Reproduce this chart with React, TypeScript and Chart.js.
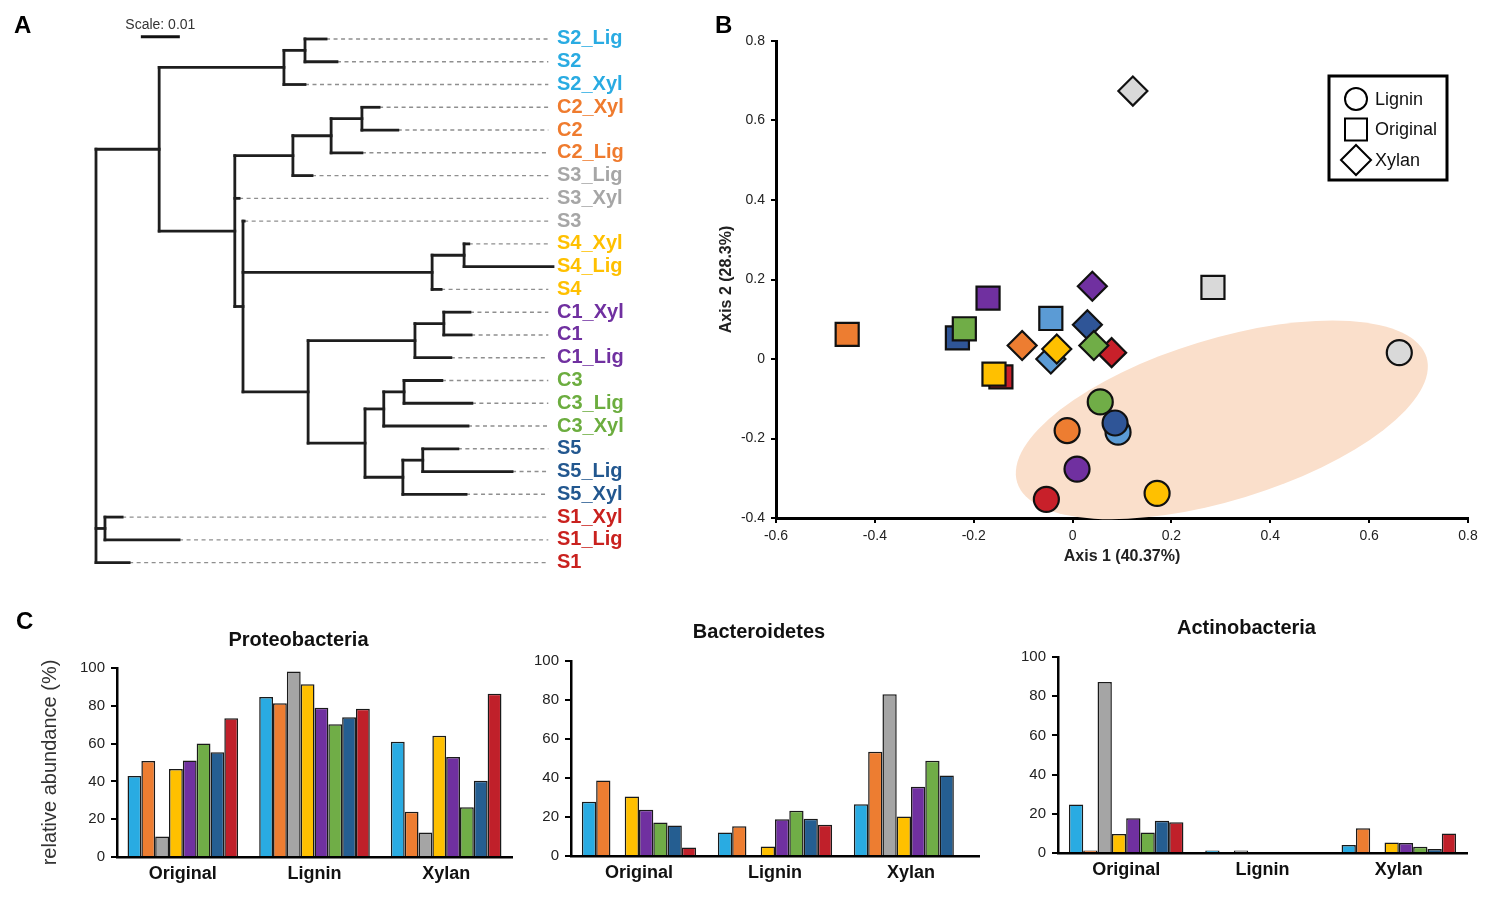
import React, { useEffect, useRef } from 'react';
import { Chart, registerables } from 'chart.js';

Chart.register(...registerables);

const FONT = '"Liberation Sans", Arial, Helvetica, sans-serif';

// ---------------- Panel A : tree (branch lengths, Newick pieces) ----------------
const CLADE_S2 = '((S2_Lig:0.0054,S2:0.0082):0.0054,S2_Xyl:0.0054)';
const CLADE_C2 = '((C2_Xyl:0.0044,C2:0.0092):0.0079,C2_Lig:0.0079)';
const CLADE_C2_S3 = '(' + CLADE_C2 + ':0.0098,S3_Lig:0.0049)';
const CLADE_S4 = '((S4_Xyl:0.0012,S4_Lig:0.0228):0.0082,S4:0.0023)';
const CLADE_C1 = '((C1_Xyl:0.0067,C1:0.0070):0.0074,C1_Lig:0.0092)';
const CLADE_C3 = '((C3:0.0097,C3_Lig:0.0174):0.0052,C3_Xyl:0.0216)';
const CLADE_S5 = '((S5:0.0090,S5_Lig:0.0229):0.0051,S5_Xyl:0.0162)';
const CLADE_C3_S5 = '(' + CLADE_C3 + ':0.0048,' + CLADE_S5 + ':0.0097)';
const CLADE_C1_C3_S5 = '(' + CLADE_C1 + ':0.0274,' + CLADE_C3_S5 + ':0.0146)';
const CLADE_Y = '(S3:0.0003,' + CLADE_S4 + ':0.0485,' + CLADE_C1_C3_S5 + ':0.0167)';
const CLADE_X = '(' + CLADE_C2_S3 + ':0.0149,S3_Xyl:0.0011,' + CLADE_Y + ':0.0021)';
const CLADE_BIG = '(' + CLADE_S2 + ':0.0320,' + CLADE_X + ':0.0194)';
const CLADE_S1 = '(S1_Xyl:0.0044,S1_Lig:0.0190)';
const TREE_NEWICK = '(' + CLADE_BIG + ':0.0162,' + CLADE_S1 + ':0.0023,S1:0.0085);';

const TREE_COLORS: Record<string, string> = {
  S1: '#c9211e', S2: '#29abe2', S3: '#a6a6a6', S4: '#ffc000',
  S5: '#22578f', C1: '#7030a0', C2: '#ef7b2e', C3: '#6cad3f',
};
const TREE_X_MAX = 0.1172;
const DASH_END = 0.116;
const SCALE_BAR_START = 0.0115;
const SCALE_BAR_LENGTH = 0.01;
const SCALE_BAR_ROW = -0.1;

// ---------------- Panel B : PCoA ----------------
const PCOA_SAMPLES = ['S1', 'S2', 'S5', 'S3', 'C1', 'C2', 'S4', 'C3'];
const PCOA_COLORS = ['#c8202a', '#5b9bd5', '#2f5597', '#d9d9d9', '#7030a0', '#ed7d31', '#ffc000', '#70ad47'];
const ORIGINAL_AXIS1 = [-0.145, -0.044, -0.233, 0.284, -0.171, -0.456, -0.159, -0.219];
const ORIGINAL_AXIS2 = [-0.045, 0.102, 0.053, 0.180, 0.153, 0.062, -0.038, 0.076];
const XYLAN_AXIS1 = [0.079, -0.044, 0.030, 0.122, 0.040, -0.102, -0.032, 0.043];
const XYLAN_AXIS2 = [0.016, 0.000, 0.086, 0.674, 0.183, 0.034, 0.025, 0.034];
const LIGNIN_AXIS1 = [-0.053, 0.092, 0.086, 0.661, 0.009, -0.011, 0.171, 0.056];
const LIGNIN_AXIS2 = [-0.353, -0.184, -0.161, 0.016, -0.277, -0.180, -0.338, -0.108];
const LEGEND_LABELS = ['Lignin', 'Original', 'Xylan'];
const ELLIPSE = { cx: 0.302, cy: -0.153, rx: 0.433, ry: 0.203, angleDeg: -17 };

// ---------------- Panel C : bars ----------------
const BAR_SAMPLES = ['S2', 'C2', 'S3', 'S4', 'C1', 'C3', 'S5', 'S1'];
const BAR_COLORS = ['#29abe2', '#ed7d31', '#a5a5a5', '#ffc000', '#7030a0', '#70ad47', '#255e91', '#c0202a'];
const TREATMENTS = ['Original', 'Lignin', 'Xylan'];

const PROTEO_ORIGINAL = [42.9, 50.8, 10.9, 46.6, 51.0, 60.0, 55.4, 73.4];
const PROTEO_LIGNIN = [84.7, 81.3, 98.2, 91.4, 79.0, 70.2, 73.9, 78.5];
const PROTEO_XYLAN = [61.0, 24.0, 12.9, 64.2, 52.9, 26.3, 40.4, 86.4];

const BACTERO_ORIGINAL = [27.8, 38.7, null, 30.5, 23.7, 17.2, 15.7, 4.3];
const BACTERO_LIGNIN = [12.1, 15.2, null, 4.9, 18.8, 23.2, 19.1, 16.0];
const BACTERO_XYLAN = [26.6, 53.4, 82.9, 20.3, 35.5, 48.8, 41.3, null];

const ACTINO_ORIGINAL = [24.7, 0.7, 87.2, 9.7, 17.7, 10.4, 16.5, 15.7];
const ACTINO_LIGNIN = [0.5, null, 0.4, null, null, null, null, null];
const ACTINO_XYLAN = [4.1, 12.6, null, 5.3, 5.1, 3.2, 2.0, 9.9];

// ---------------- tree helpers ----------------
type TNode = { name?: string; len: number; children: TNode[]; x: number; y: number };

function parseNewick(s: string): TNode {
  let i = 0;
  const parseNode = (): TNode => {
    const node: TNode = { len: 0, children: [], x: 0, y: 0 };
    if (s[i] === '(') {
      i++;
      node.children.push(parseNode());
      while (s[i] === ',') {
        i++;
        node.children.push(parseNode());
      }
      i++;
    }
    let name = '';
    while (i < s.length && !':,);'.includes(s[i])) name += s[i++];
    if (name) node.name = name;
    if (s[i] === ':') {
      i++;
      let num = '';
      while (i < s.length && !',);'.includes(s[i])) num += s[i++];
      node.len = parseFloat(num);
    }
    return node;
  };
  return parseNode();
}

function layoutTree(n: TNode, parentX: number | null, leaves: TNode[]) {
  n.x = parentX === null ? 0 : parentX + n.len;
  if (n.children.length === 0) {
    n.y = leaves.length;
    leaves.push(n);
  } else {
    n.children.forEach((c) => layoutTree(c, n.x, leaves));
    n.y = (n.children[0].y + n.children[n.children.length - 1].y) / 2;
  }
}

type Pt = { x: number; y: number };
function collectSegments(n: TNode, parentX: number | null, out: Pt[][]) {
  if (parentX !== null) out.push([{ x: parentX, y: n.y }, { x: n.x, y: n.y }]);
  if (n.children.length) {
    out.push([
      { x: n.x, y: n.children[0].y },
      { x: n.x, y: n.children[n.children.length - 1].y },
    ]);
    n.children.forEach((c) => collectSegments(c, n.x, out));
  }
}

const scaleBarPlugin = {
  id: 'scaleBar',
  afterDraw(chart: any) {
    const { ctx } = chart;
    const xs = chart.scales.x;
    const ys = chart.scales.y;
    const x0 = xs.getPixelForValue(SCALE_BAR_START);
    const x1 = xs.getPixelForValue(SCALE_BAR_START + SCALE_BAR_LENGTH);
    const py = ys.getPixelForValue(SCALE_BAR_ROW);
    ctx.save();
    ctx.strokeStyle = '#111';
    ctx.lineWidth = 3;
    ctx.beginPath();
    ctx.moveTo(x0, py);
    ctx.lineTo(x1, py);
    ctx.stroke();
    ctx.fillStyle = '#333';
    ctx.font = '14px ' + FONT;
    ctx.textAlign = 'center';
    ctx.textBaseline = 'middle';
    ctx.fillText('Scale: ' + SCALE_BAR_LENGTH, (x0 + x1) / 2, py - 12);
    ctx.restore();
  },
};

function makeTreeConfig(): any {
  const root = parseNewick(TREE_NEWICK);
  const leaves: TNode[] = [];
  layoutTree(root, null, leaves);
  const solid: Pt[][] = [];
  collectSegments(root, null, solid);
  const dashed = leaves
    .filter((l) => l.x < DASH_END - 1e-4)
    .map((l) => [{ x: l.x, y: l.y }, { x: DASH_END, y: l.y }]);
  const names = leaves.map((l) => l.name as string);
  const colors = names.map((n) => TREE_COLORS[n.split('_')[0]]);
  const datasets: any[] = [
    ...solid.map((seg) => ({
      data: seg,
      showLine: true,
      borderColor: '#1e1e1e',
      borderWidth: 2.8,
      borderCapStyle: 'square',
      pointRadius: 0,
      clip: false,
    })),
    ...dashed.map((seg) => ({
      data: seg,
      showLine: true,
      borderColor: '#8f8f8f',
      borderWidth: 1.4,
      borderDash: [4, 3.5],
      pointRadius: 0,
      clip: false,
    })),
  ];
  return {
    type: 'scatter',
    data: { datasets },
    options: {
      animation: false,
      responsive: false,
      events: [],
      layout: { padding: { left: 96, top: 27.6, bottom: 15.9, right: 0 } },
      plugins: { legend: { display: false }, tooltip: { enabled: false } },
      scales: {
        x: { type: 'linear', min: 0, max: TREE_X_MAX, display: false },
        y: {
          type: 'linear',
          position: 'right',
          reverse: true,
          min: -0.5,
          max: leaves.length - 0.5,
          afterBuildTicks: (axis: any) => {
            axis.ticks = names.map((_, i) => ({ value: i }));
          },
          afterFit: (s: any) => {
            s.width = 147;
          },
          grid: { display: false, drawTicks: false },
          border: { display: false },
          ticks: {
            autoSkip: false,
            padding: 4,
            callback: (_v: any, i: number) => names[i],
            color: (c: any) => colors[c.index],
            font: { family: FONT, size: 20, weight: 'bold' },
          },
        },
      },
    },
    plugins: [scaleBarPlugin],
  };
}

// ---------------- PCoA helpers ----------------
const ellipsePlugin = {
  id: 'ellipseBg',
  beforeDatasetsDraw(chart: any) {
    const { ctx } = chart;
    const xs = chart.scales.x;
    const ys = chart.scales.y;
    const cx = xs.getPixelForValue(ELLIPSE.cx);
    const cy = ys.getPixelForValue(ELLIPSE.cy);
    const rx = Math.abs(xs.getPixelForValue(ELLIPSE.rx) - xs.getPixelForValue(0));
    const ry = Math.abs(ys.getPixelForValue(ELLIPSE.ry) - ys.getPixelForValue(0));
    ctx.save();
    ctx.fillStyle = '#fadfcb';
    ctx.beginPath();
    ctx.ellipse(cx, cy, rx, ry, (ELLIPSE.angleDeg * Math.PI) / 180, 0, Math.PI * 2);
    ctx.fill();
    ctx.restore();
  },
};

const shapeLegendPlugin = {
  id: 'shapeLegend',
  afterDraw(chart: any) {
    const { ctx, chartArea } = chart;
    const bx = chartArea.right - 139;
    const by = chartArea.top + 35;
    ctx.save();
    ctx.lineWidth = 3;
    ctx.strokeStyle = '#000';
    ctx.fillStyle = '#fff';
    ctx.fillRect(bx, by, 118, 104);
    ctx.strokeRect(bx, by, 118, 104);
    LEGEND_LABELS.forEach((label, i) => {
      const cx = bx + 27;
      const cy = by + 23 + i * 30.5;
      ctx.lineWidth = 2;
      ctx.beginPath();
      if (label === 'Lignin') {
        ctx.arc(cx, cy, 11, 0, Math.PI * 2);
      } else if (label === 'Original') {
        ctx.rect(cx - 11, cy - 11, 22, 22);
      } else {
        ctx.moveTo(cx - 15, cy);
        ctx.lineTo(cx, cy - 15);
        ctx.lineTo(cx + 15, cy);
        ctx.lineTo(cx, cy + 15);
        ctx.closePath();
      }
      ctx.fillStyle = '#fff';
      ctx.fill();
      ctx.stroke();
      ctx.fillStyle = '#111';
      ctx.font = '18px ' + FONT;
      ctx.textAlign = 'left';
      ctx.textBaseline = 'middle';
      ctx.fillText(label, cx + 19, cy + 1);
    });
    ctx.restore();
  },
};

function pts(xs: number[], ys: number[]) {
  return xs.map((x, i) => ({ x, y: ys[i] }));
}

const fmtTick = (v: any) => {
  const r = Math.round(Number(v) * 10) / 10;
  return r === 0 ? '0' : String(r);
};

function makePcoaConfig(): any {
  const common = {
    pointBackgroundColor: PCOA_COLORS,
    pointBorderColor: '#111',
    pointBorderWidth: 2.2,
    showLine: false,
  };
  return {
    type: 'scatter',
    data: {
      datasets: [
        { ...common, label: 'Lignin', data: pts(LIGNIN_AXIS1, LIGNIN_AXIS2), pointStyle: 'circle', pointRadius: 12.5 },
        { ...common, label: 'Xylan', data: pts(XYLAN_AXIS1, XYLAN_AXIS2), pointStyle: 'rectRot', pointRadius: 14.5 },
        { ...common, label: 'Original', data: pts(ORIGINAL_AXIS1, ORIGINAL_AXIS2), pointStyle: 'rect', pointRadius: 16.3 },
      ],
    },
    options: {
      animation: false,
      responsive: false,
      events: [],
      layout: { padding: { left: 13.4, top: 41, right: 32, bottom: 19.4 } },
      plugins: { legend: { display: false }, tooltip: { enabled: false } },
      scales: {
        x: {
          type: 'linear',
          min: -0.6,
          max: 0.8,
          afterFit: (s: any) => {
            s.height = 52.6;
          },
          ticks: { stepSize: 0.2, padding: 4.6, color: '#222', font: { family: FONT, size: 14 }, callback: fmtTick },
          grid: { drawOnChartArea: false, color: '#000', lineWidth: 2, tickLength: 5 },
          border: { color: '#000', width: 3 },
          title: {
            display: true,
            text: 'Axis 1 (40.37%)',
            color: '#222',
            font: { family: FONT, size: 16, weight: 'bold' },
            padding: { top: 4, bottom: 4 },
          },
        },
        y: {
          type: 'linear',
          min: -0.4,
          max: 0.8,
          afterFit: (s: any) => {
            s.width = 62.6;
          },
          ticks: { stepSize: 0.2, padding: 6, color: '#222', font: { family: FONT, size: 14 }, callback: fmtTick },
          grid: { drawOnChartArea: false, color: '#000', lineWidth: 2, tickLength: 5 },
          border: { color: '#000', width: 3 },
          title: {
            display: true,
            text: 'Axis 2 (28.3%)',
            color: '#222',
            font: { family: FONT, size: 16, weight: 'bold' },
            padding: { top: 4, bottom: 4 },
          },
        },
      },
    },
    plugins: [ellipsePlugin, shapeLegendPlugin],
  };
}

// ---------------- bar helpers ----------------
const panelTitlePlugin = {
  id: 'panelTitle',
  afterDraw(chart: any, _args: any, opts: any) {
    const { ctx, chartArea } = chart;
    ctx.save();
    ctx.fillStyle = '#111';
    ctx.font = 'bold 20px ' + FONT;
    ctx.textAlign = 'center';
    ctx.textBaseline = 'middle';
    ctx.fillText(opts.text, (chartArea.left + chartArea.right) / 2 + opts.dx, opts.y);
    ctx.restore();
  },
};

type BarLayout = {
  padding: { left: number; top: number; right: number; bottom: number };
  yWidth: number;
  xHeight: number;
  yTitle?: string;
  titleY: number;
};

function makeBarConfig(title: string, groups: (number | null)[][], lay: BarLayout): any {
  const datasets = BAR_SAMPLES.map((name, si) => ({
    label: name,
    data: groups.map((g) => g[si]),
    backgroundColor: BAR_COLORS[si],
    borderColor: '#1a1a1a',
    borderWidth: 1.5,
    minBarLength: 2.5,
    categoryPercentage: 0.84,
    barPercentage: 1.0,
  }));
  return {
    type: 'bar',
    data: { labels: TREATMENTS, datasets },
    options: {
      animation: false,
      responsive: false,
      events: [],
      layout: { padding: lay.padding },
      plugins: {
        legend: { display: false },
        tooltip: { enabled: false },
        panelTitle: { text: title, dx: -16, y: lay.titleY },
      },
      scales: {
        x: {
          afterFit: (s: any) => {
            s.height = lay.xHeight;
          },
          grid: { display: false, drawTicks: false },
          border: { color: '#000', width: 2.5 },
          ticks: { padding: 6, color: '#111', font: { family: FONT, size: 18, weight: 'bold' } },
        },
        y: {
          min: 0,
          max: 100,
          afterFit: (s: any) => {
            s.width = lay.yWidth;
          },
          ticks: { stepSize: 20, padding: 6, color: '#222', font: { family: FONT, size: 15 } },
          grid: { drawOnChartArea: false, color: '#000', lineWidth: 2, tickLength: 6 },
          border: { color: '#000', width: 2.5 },
          title: {
            display: !!lay.yTitle,
            text: lay.yTitle || '',
            color: '#333',
            font: { family: FONT, size: 20 },
            padding: { top: 4, bottom: 4 },
          },
        },
      },
    },
    plugins: [panelTitlePlugin],
  };
}

// ---------------- components ----------------
function ChartBox(props: { left: number; top: number; width: number; height: number; make: () => any }) {
  const ref = useRef<HTMLCanvasElement>(null);
  useEffect(() => {
    const chart = new Chart(ref.current as HTMLCanvasElement, props.make());
    return () => chart.destroy();
  }, []);
  return (
    <div style={{ position: 'absolute', left: props.left, top: props.top, width: props.width, height: props.height }}>
      <canvas
        ref={ref}
        width={props.width}
        height={props.height}
        style={{ width: props.width, height: props.height, display: 'block' }}
      />
    </div>
  );
}

const letterStyle = (left: number, top: number): React.CSSProperties => ({
  position: 'absolute',
  left,
  top,
  fontFamily: FONT,
  fontWeight: 'bold',
  fontSize: 24,
  lineHeight: '24px',
  color: '#000',
});

export default function App() {
  return (
    <div
      style={{
        position: 'absolute',
        left: 0,
        top: 0,
        width: 1500,
        height: 905,
        background: '#fff',
        overflow: 'hidden',
      }}
    >
      <ChartBox left={0} top={0} width={700} height={590} make={makeTreeConfig} />
      <ChartBox left={700} top={0} width={800} height={590} make={makePcoaConfig} />
      <ChartBox
        left={0}
        top={600}
        width={520}
        height={300}
        make={() =>
          makeBarConfig('Proteobacteria', [PROTEO_ORIGINAL, PROTEO_LIGNIN, PROTEO_XYLAN], {
            padding: { left: 34, top: 68, right: 8, bottom: 0 },
            yWidth: 83,
            xHeight: 43,
            yTitle: 'relative abundance (%)',
            titleY: 40,
          })
        }
      />
      <ChartBox
        left={520}
        top={600}
        width={470}
        height={300}
        make={() =>
          makeBarConfig('Bacteroidetes', [BACTERO_ORIGINAL, BACTERO_LIGNIN, BACTERO_XYLAN], {
            padding: { left: 0, top: 61, right: 11, bottom: 0 },
            yWidth: 51,
            xHeight: 44,
            titleY: 32,
          })
        }
      />
      <ChartBox
        left={1000}
        top={600}
        width={490}
        height={300}
        make={() =>
          makeBarConfig('Actinobacteria', [ACTINO_ORIGINAL, ACTINO_LIGNIN, ACTINO_XYLAN], {
            padding: { left: 0, top: 57, right: 23, bottom: 0 },
            yWidth: 58,
            xHeight: 47,
            titleY: 28,
          })
        }
      />
      <div style={letterStyle(14, 13)}>A</div>
      <div style={letterStyle(715, 13)}>B</div>
      <div style={letterStyle(16, 609)}>C</div>
    </div>
  );
}
